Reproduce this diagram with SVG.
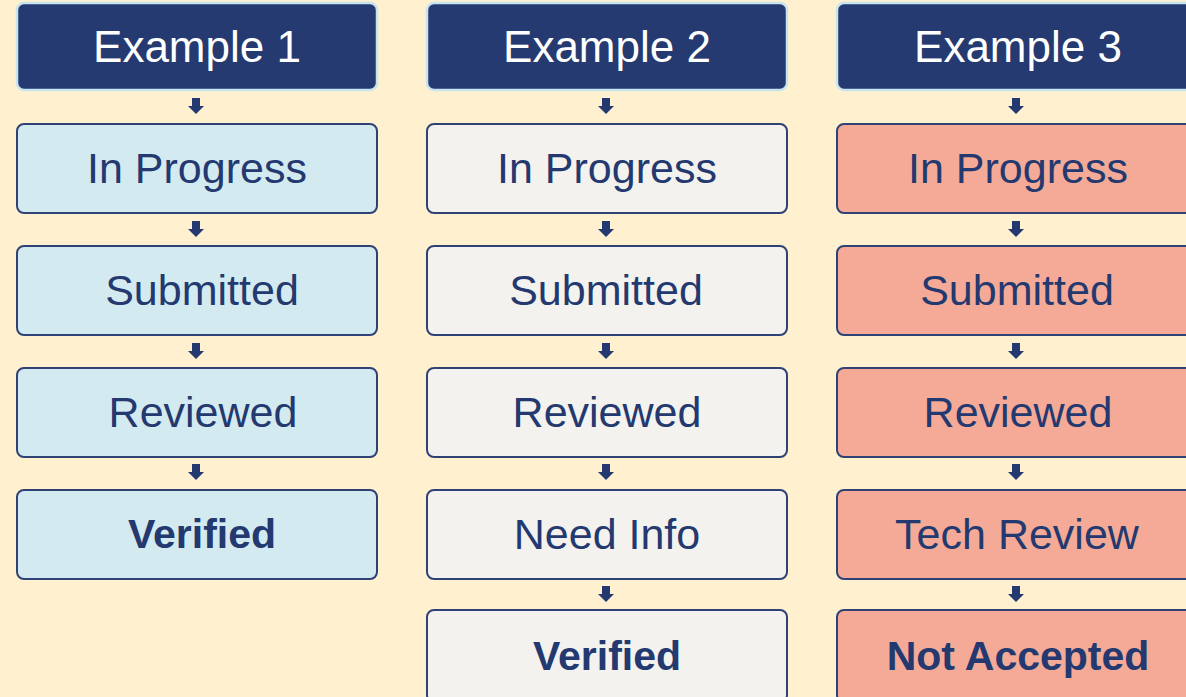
<svg xmlns="http://www.w3.org/2000/svg" width="1186" height="697" viewBox="0 0 1186 697">
<style>
.hd{fill:#243a70;stroke:#c8e4ee;stroke-width:2.5}
.bx{stroke:#2f4275;stroke-width:2}
.c1{fill:#d3eaf0}.c2{fill:#f3f2ee}.c3{fill:#f4aa96}
.ht{font-family:"Liberation Sans",Arial,sans-serif;font-size:44px;fill:#ffffff;text-anchor:middle}
.t{font-family:"Liberation Sans",Arial,sans-serif;font-size:43px;fill:#23396f;text-anchor:middle}
.b{font-family:"Liberation Sans",Arial,sans-serif;font-size:41px;font-weight:bold;fill:#23396f;text-anchor:middle}
.ar{fill:#23396f}
</style>
<defs>
<path id="arr" d="M-4,0 H4 V8 H8 L0,16 L-8,8 H-4 Z"/>
</defs>
<rect width="1186" height="697" fill="#fff1cf"/>
<g id="connectors">
<use href="#arr" class="ar" x="196" y="98"/>
<use href="#arr" class="ar" x="196" y="221"/>
<use href="#arr" class="ar" x="196" y="343"/>
<use href="#arr" class="ar" x="196" y="464"/>
<use href="#arr" class="ar" x="606" y="98"/>
<use href="#arr" class="ar" x="606" y="221"/>
<use href="#arr" class="ar" x="606" y="343"/>
<use href="#arr" class="ar" x="606" y="464"/>
<use href="#arr" class="ar" x="606" y="586"/>
<use href="#arr" class="ar" x="1016" y="98"/>
<use href="#arr" class="ar" x="1016" y="221"/>
<use href="#arr" class="ar" x="1016" y="343"/>
<use href="#arr" class="ar" x="1016" y="464"/>
<use href="#arr" class="ar" x="1016" y="586"/>
</g>
<g id="h1"><rect class="hd" x="17" y="3" width="360" height="87" rx="7"/><text class="ht" x="197" y="62">Example 1</text></g>
<g id="h2"><rect class="hd" x="427" y="3" width="360" height="87" rx="7"/><text class="ht" x="607" y="62">Example 2</text></g>
<g id="h3"><rect class="hd" x="837" y="3" width="360" height="87" rx="7"/><text class="ht" x="1018" y="62">Example 3</text></g>

<g id="n1a"><rect class="bx c1" x="17" y="124" width="360" height="89" rx="7"/><text class="t" x="197" y="183">In Progress</text></g>
<g id="n1b"><rect class="bx c1" x="17" y="246" width="360" height="89" rx="7"/><text class="t" x="202" y="305">Submitted</text></g>
<g id="n1c"><rect class="bx c1" x="17" y="368" width="360" height="89" rx="7"/><text class="t" x="203" y="427">Reviewed</text></g>
<g id="n1d"><rect class="bx c1" x="17" y="490" width="360" height="89" rx="7"/><text class="b" x="202" y="548">Verified</text></g>

<g id="n2a"><rect class="bx c2" x="427" y="124" width="360" height="89" rx="7"/><text class="t" x="607" y="183">In Progress</text></g>
<g id="n2b"><rect class="bx c2" x="427" y="246" width="360" height="89" rx="7"/><text class="t" x="606" y="305">Submitted</text></g>
<g id="n2c"><rect class="bx c2" x="427" y="368" width="360" height="89" rx="7"/><text class="t" x="607" y="427">Reviewed</text></g>
<g id="n2d"><rect class="bx c2" x="427" y="490" width="360" height="89" rx="7"/><text class="t" x="607" y="549">Need Info</text></g>
<g id="n2e"><rect class="bx c2" x="427" y="610" width="360" height="92" rx="7"/><text class="b" x="607" y="670">Verified</text></g>

<g id="n3a"><rect class="bx c3" x="837" y="124" width="360" height="89" rx="7"/><text class="t" x="1018" y="183">In Progress</text></g>
<g id="n3b"><rect class="bx c3" x="837" y="246" width="360" height="89" rx="7"/><text class="t" x="1017" y="305">Submitted</text></g>
<g id="n3c"><rect class="bx c3" x="837" y="368" width="360" height="89" rx="7"/><text class="t" x="1018" y="427">Reviewed</text></g>
<g id="n3d"><rect class="bx c3" x="837" y="490" width="360" height="89" rx="7"/><text class="t" x="1017" y="549">Tech Review</text></g>
<g id="n3e"><rect class="bx c3" x="837" y="610" width="360" height="92" rx="7"/><text class="b" x="1018" y="670">Not Accepted</text></g>
</svg>
